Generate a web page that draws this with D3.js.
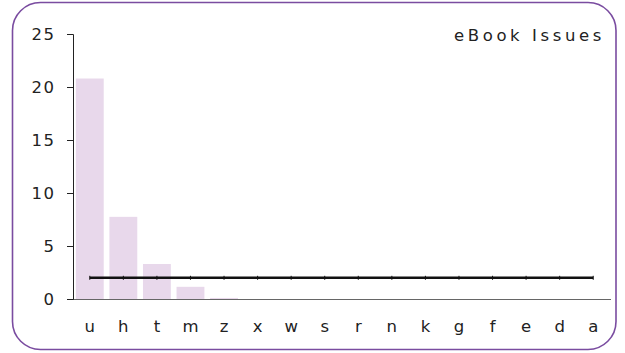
<!DOCTYPE html>
<html><head><meta charset="utf-8">
<script src="https://cdn.jsdelivr.net/npm/d3@7"></script>
<style>
body{margin:0;background:#fff;}
text{font-family:"DejaVu Sans",sans-serif;fill:#222;}
</style></head>
<body><svg id="c" width="625" height="353"></svg>
<script>
const categories = ["u","h","t","m","z","x","w","s","r","n","k","g","f","e","d","a"];
const issues = [20.8,7.75,3.3,1.15,0.1,0,0,0,0,0,0,0,0,0,0,0];
const target = [2,2,2,2,2,2,2,2,2,2,2,2,2,2,2,2];
const yTicks = [0,5,10,15,20,25];
const title = "eBook Issues";

const FONT = "DejaVu Sans, sans-serif";
const svg = d3.select("#c");
svg.append("rect").attr("x",12.5).attr("y",2.5).attr("width",603.5).attr("height",347)
  .attr("rx",28).attr("ry",28).attr("fill","none").attr("stroke","#7a4ca0").attr("stroke-width",1.6);

const x = d3.scaleBand().domain(categories).range([73,610]).paddingInner(0.17).paddingOuter(0.085);
const y = d3.scaleLinear().domain([0,25]).range([299,34]);

svg.selectAll("rect.bar").data(categories).enter().append("rect").attr("class","bar")
  .attr("x",d=>x(d)).attr("width",x.bandwidth())
  .attr("y",(d,i)=>y(issues[i])).attr("height",(d,i)=>y(0)-y(issues[i]))
  .attr("fill","#e8d8eb");

// x axis
const xa = svg.append("g").attr("transform","translate(0,299)")
  .call(d3.axisBottom(x).tickSize(0).tickPadding(21));
xa.select(".domain").attr("stroke","#666").attr("d","M67,0.5H611");
xa.selectAll("text").attr("font-size",16.5).style("font-family",FONT).attr("fill","#222");

// y axis
const ya = svg.append("g").attr("transform","translate(73,0)")
  .call(d3.axisLeft(y).tickValues(yTicks).tickSize(6).tickPadding(11.5));
ya.select(".domain").attr("stroke","#222").attr("d","M-6,34.5H0.5V299.5H-6");
ya.selectAll(".tick line").attr("stroke","#222");
ya.selectAll("text").attr("font-size",16.5).attr("letter-spacing","1.5px").style("font-family",FONT).attr("fill","#222");

// target line
const line = d3.line().x((d,i)=>x(categories[i])+x.bandwidth()/2).y(d=>y(d));
svg.append("path").datum(target).attr("d",line).attr("fill","none").attr("stroke","#111").attr("stroke-width",2.5);
svg.selectAll("line.mk").data(target).enter().append("line").attr("class","mk")
  .attr("x1",(d,i)=>x(categories[i])+x.bandwidth()/2).attr("x2",(d,i)=>x(categories[i])+x.bandwidth()/2)
  .attr("y1",d=>y(d)-2).attr("y2",d=>y(d)+2).attr("stroke","#111").attr("stroke-width",1);

svg.append("text").attr("x",605).attr("y",41).attr("text-anchor","end")
  .attr("font-size",16.5).attr("letter-spacing","3.6px").style("font-family",FONT).text(title);
</script></body></html>
